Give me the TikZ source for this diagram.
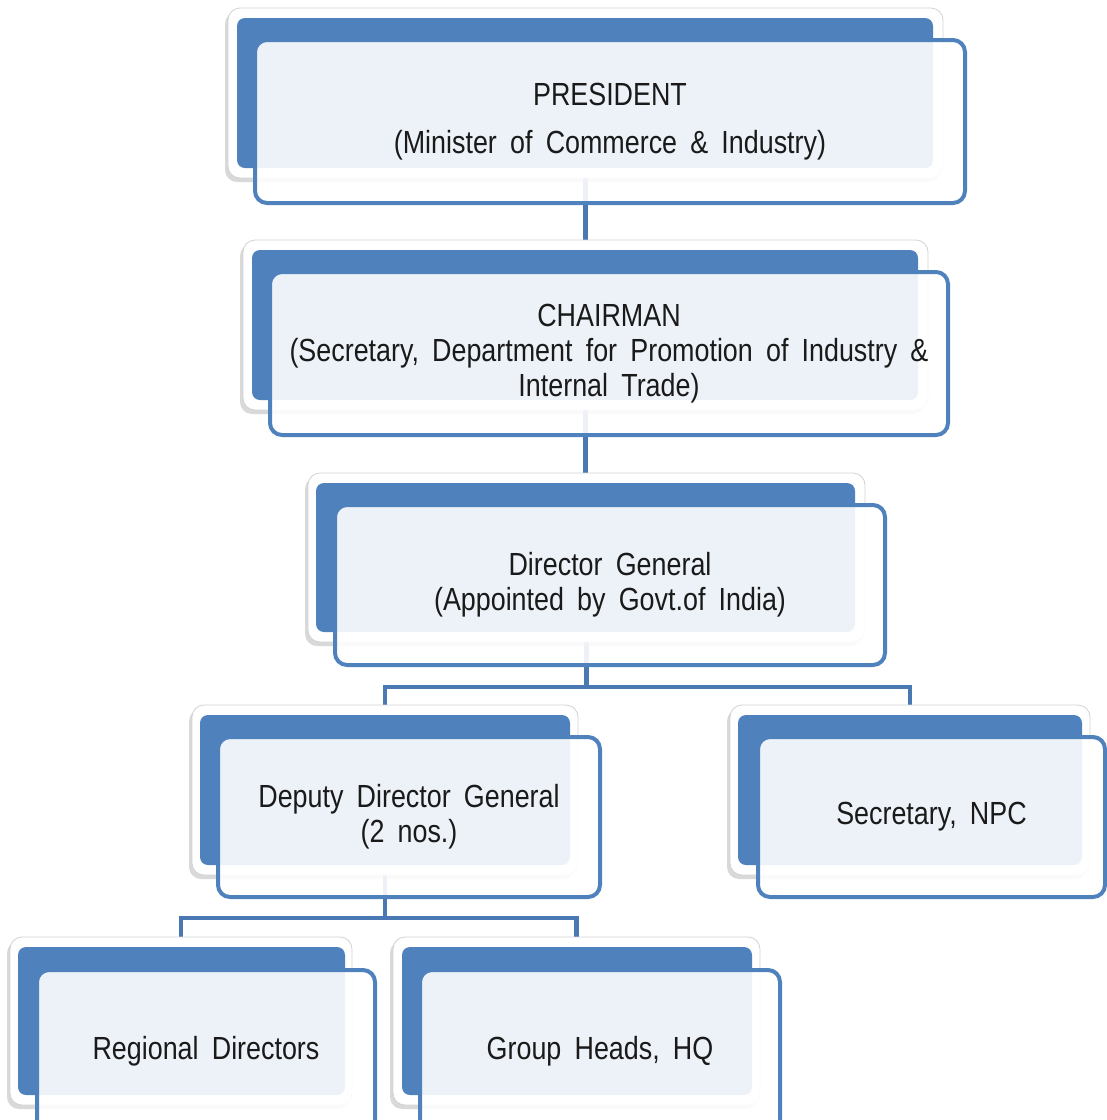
\documentclass[tikz,border=0pt]{standalone}
\usepackage{fontspec}
\setmainfont[FakeStretch=0.84]{Liberation Sans}
\usetikzlibrary{fit,shadows,backgrounds}

\definecolor{cardblue}{HTML}{4F81BD}
\definecolor{linkblue}{HTML}{4A78B2}
\definecolor{cardtext}{HTML}{1A1A1A}

\newcommand{\cardfont}{\fontsize{16}{17.5}\selectfont\spaceskip=6.6pt plus 1pt minus 1pt\relax}

\tikzset{
	backcard/.style={draw=gray!35, line width=0.4pt, fill=white, rounded corners=6pt, inner sep=0pt,
		drop shadow={shadow xshift=-1.5pt, shadow yshift=-2pt, opacity=0.3}},
	bluecard/.style={fill=cardblue, rounded corners=4pt, inner sep=0pt},
	frontcard/.style={draw=cardblue, line width=2pt, fill=white, fill opacity=0.9, rounded corners=6pt, inner sep=0pt},
	cardlabel/.style={align=center, text=cardtext, inner sep=0pt, font=\cardfont},
	link/.style={draw=linkblue, line width=2.2pt}
}

\begin{document}
\begin{tikzpicture}[x=0.5pt, y=-0.5pt]
		\useasboundingbox (0,0) rectangle (1107,1120);
		% president
		\node[backcard, fit={(228,8) (943,178)}] (pres-b) {};
		\node[bluecard, fit={(237,18) (933,168)}] (pres-i) {};
		\node[frontcard, fit={(255,40) (965,203)}] (pres) {};
		\node[cardlabel] (pres-t) at (pres.center) {PRESIDENT\\[6.5pt](Minister of Commerce \& Industry)};
		% chairman
		\node[backcard, fit={(243,240) (928,410)}] (chair-b) {};
		\node[bluecard, fit={(252,250) (918,400)}] (chair-i) {};
		\node[frontcard, fit={(270,272) (948,435)}] (chair) {};
		\node[cardlabel] (chair-t) at (chair.center) {CHAIRMAN\\(Secretary, Department for Promotion of Industry \&\\Internal Trade)};
		% director general
		\node[backcard, fit={(308,473) (865,642)}] (dg-b) {};
		\node[bluecard, fit={(316,483) (855,632)}] (dg-i) {};
		\node[frontcard, fit={(335,505) (885,665)}] (dg) {};
		\node[cardlabel] (dg-t) at (dg.center) {Director General\\(Appointed by Govt.of India)};
		% deputy director general
		\node[backcard, fit={(192,705) (578,875)}] (ddg-b) {};
		\node[bluecard, fit={(200,715) (570,865)}] (ddg-i) {};
		\node[frontcard, fit={(218,737) (600,897)}] (ddg) {};
		\node[cardlabel] (ddg-t) at (ddg.center) {Deputy Director General\\(2 nos.)};
		% secretary
		\node[backcard, fit={(730,705) (1090,875)}] (npc-b) {};
		\node[bluecard, fit={(738,715) (1082,865)}] (npc-i) {};
		\node[frontcard, fit={(758,737) (1105,897)}] (npc) {};
		\node[cardlabel] (npc-t) at (npc.center) {Secretary, NPC};
		% regional directors
		\node[backcard, fit={(10,937) (352,1105)}] (rd-b) {};
		\node[bluecard, fit={(18,947) (345,1095)}] (rd-i) {};
		\node[frontcard, fit={(37,970) (375,1133)}] (rd) {};
		\node[cardlabel] (rd-t) at (rd.center) {Regional Directors};
		% group heads
		\node[backcard, fit={(393,937) (760,1105)}] (gh-b) {};
		\node[bluecard, fit={(402,947) (752,1095)}] (gh-i) {};
		\node[frontcard, fit={(420,970) (780,1133)}] (gh) {};
		\node[cardlabel] (gh-t) at (gh.center) {Group Heads, HQ};

		\coordinate (dg-bus) at (585,687);
		\coordinate (ddg-bus) at (385,918);
		\begin{pgfonlayer}{background}
			\draw[link] (pres-b.south) -- (pres-b.south |- chair-b.north);
			\draw[link] (chair-b.south) -- (chair-b.south |- dg-b.north);
			\draw[link] (dg-b.south) -- (dg-b.south |- dg-bus) -| (ddg-b.north);
			\draw[link] (dg-b.south |- dg-bus) -| (npc-b.north);
			\draw[link] (ddg-b.south) -- (ddg-b.south |- ddg-bus) -| (rd-b.north);
			\draw[link] (ddg-b.south |- ddg-bus) -| (gh-b.north);
		\end{pgfonlayer}
	\end{tikzpicture}
\end{document}
